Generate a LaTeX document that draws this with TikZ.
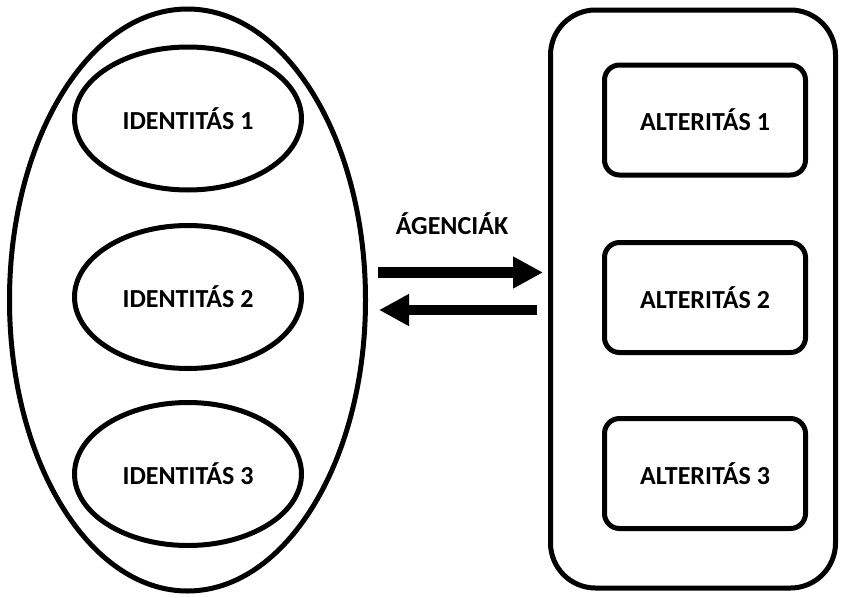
\documentclass[tikz,border=0pt]{standalone}
\usepackage{fontspec}
\setmainfont{Carlito}
\usepackage{tikz}
\usetikzlibrary{arrows.meta,shapes,positioning}

\begin{document}
\begin{tikzpicture}[x=1pt, y=-1pt,
    font=\fontsize{26}{30}\selectfont\bfseries,
    outer ellipse/.style={ellipse, draw, line width=5pt, minimum width=356pt, minimum height=582pt, inner sep=0pt},
    outer box/.style={rectangle, rounded corners=45pt, draw, line width=5pt, minimum width=285pt, minimum height=578pt, inner sep=0pt},
    id style/.style={ellipse, draw, line width=5pt, minimum width=227pt, minimum height=143pt, inner sep=0pt},
    alt style/.style={rectangle, rounded corners=15pt, draw, line width=5pt, minimum width=201pt, minimum height=110pt, inner sep=0pt},
    flow/.style={line width=10.5pt, -{Triangle[width=30pt,length=30pt]}}
]
\useasboundingbox (0,0) rectangle (842,597);

% left side
\node[outer ellipse] (idents) at (187.5,300) {};
\node[id style] (id1) at (188,118.5) {IDENTITÁS 1};
\node[id style] (id2) at (188,297) {IDENTITÁS 2};
\node[id style] (id3) at (188,474) {IDENTITÁS 3};

% right side
\node[outer box] (alters) at (693,299) {};
\node[alt style] (alt1) at (705,120) {ALTERITÁS 1};
\node[alt style] (alt2) at (705,297.5) {ALTERITÁS 2};
\node[alt style] (alt3) at (705,473.5) {ALTERITÁS 3};

% agencies
\node (agency) at (452,224) {ÁGENCIÁK};
\coordinate (to start) at (378,272.5);
\coordinate (to end) at (543,272.5);
\coordinate (back start) at (537,310);
\coordinate (back end) at (379,310);
\draw[flow] (to start) -- (to end);
\draw[flow] (back start) -- (back end);
\end{tikzpicture}
\end{document}
